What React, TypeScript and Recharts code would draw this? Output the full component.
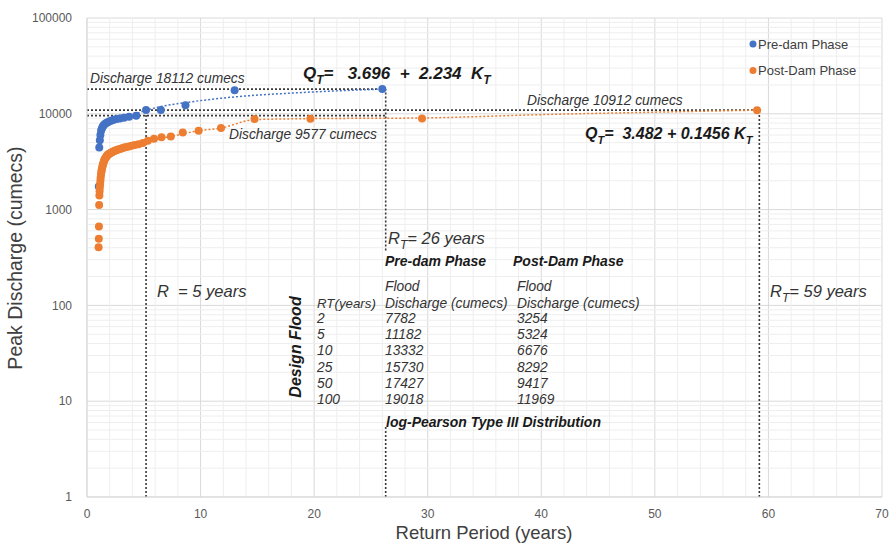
import React from 'react';
import {
  ComposedChart,
  Scatter,
  Line,
  XAxis,
  YAxis,
  CartesianGrid,
  ReferenceLine,
} from 'recharts';

const FONT = '"Liberation Sans", Arial, Helvetica, sans-serif';
const BLUE = '#4472C4';
const ORANGE = '#ED7D31';
const GUIDE = '#3a3a3a';

// Pre-dam phase: return period (years) and peak discharge (cumecs)
const preDamT = [26, 13, 8.67, 6.5, 5.2, 4.33, 3.71, 3.25, 2.89, 2.6, 2.36, 2.17, 2.0, 1.86, 1.73, 1.63, 1.53, 1.44, 1.37, 1.3, 1.24, 1.18, 1.13, 1.08, 1.04];
const preDamQ = [18112, 17650, 12300, 10930, 10930, 9530, 9300, 9100, 8950, 8800, 8650, 8500, 8350, 8200, 8050, 7900, 7750, 7550, 7300, 7000, 6650, 6000, 5300, 4460, 1740];

// Post-dam phase
const postDamT = [59, 29.5, 19.67, 14.75, 11.8, 9.83, 8.43, 7.38, 6.56, 5.9, 5.36, 4.92, 4.54, 4.21, 3.93, 3.69, 3.47, 3.28, 3.1, 2.95, 2.81, 2.68, 2.57, 2.46, 2.36, 2.27, 2.19, 2.11, 2.03, 1.97, 1.9, 1.84, 1.79, 1.74, 1.69, 1.64, 1.59, 1.55, 1.51, 1.48, 1.44, 1.4, 1.37, 1.34, 1.31, 1.28, 1.26, 1.23, 1.2, 1.18, 1.16, 1.13, 1.11, 1.09, 1.07, 1.05, 1.04, 1.02];
const postDamQ = [10912, 8940, 8900, 8800, 7100, 6650, 6380, 5800, 5680, 5500, 5230, 4950, 4820, 4720, 4630, 4560, 4500, 4440, 4380, 4320, 4270, 4220, 4170, 4120, 4070, 4020, 3970, 3920, 3870, 3830, 3780, 3730, 3680, 3620, 3550, 3480, 3400, 3330, 3250, 3150, 3050, 2950, 2850, 2750, 2650, 2550, 2450, 2300, 2150, 2000, 1850, 1700, 1550, 1400, 1120, 665, 495, 405];

// dotted trend lines
const preTrendT = [3.8, 5, 6.5, 8.7, 13, 18, 22, 26];
const preTrendQ = [9450, 10700, 11900, 13100, 15000, 16450, 17350, 18112];
const postTrendT = [4.5, 5.36, 7.38, 9.83, 11.8, 14.75, 19.67, 29.5, 40, 50, 59];
const postTrendQ = [4820, 5230, 5800, 6650, 7100, 8700, 8900, 9050, 9800, 10400, 10912];

// design return periods and discharges marked with guide lines
const guideT = [5.2, 26.3, 59.2];
const guideQ = [10930, 18112, 10912];
const trendQ26 = 9577;

const xTicks = [0, 10, 20, 30, 40, 50, 60, 70];
const yTicks = [1, 10, 100, 1000, 10000, 100000];

// table of design floods
const tableRT = ['2', '5', '10', '25', '50', '100'];
const tablePre = ['7782', '11182', '13332', '15730', '17427', '19018'];
const tablePost = ['3254', '5324', '6676', '8292', '9417', '11969'];

const toPoints = (xs: number[], ys: number[]) => xs.map((x, i) => ({ x, y: ys[i] }));

const preDam = toPoints(preDamT, preDamQ);
const postDam = toPoints(postDamT, postDamQ);
const preTrend = toPoints(preTrendT, preTrendQ);
const postTrend = toPoints(postTrendT, postTrendQ);

const xMinor: number[] = [];
for (let v = 2; v < 70; v += 2) if (v % 10 !== 0) xMinor.push(v);
const yMinor: number[] = [];
for (let d = 1; d < 100000; d *= 10) for (let k = 2; k <= 9; k++) yMinor.push(k * d);

const dot = (color: string) => (p: any) => <circle cx={p.cx} cy={p.cy} r={4} fill={color} />;

const italic = { fontFamily: FONT, fontStyle: 'italic' as const, fill: '#333', whiteSpace: 'pre' as const };
const boldItalic = { ...italic, fontWeight: 700, fill: '#1a1a1a' };

function Sub({ children, size = 16, x, y }: { children: React.ReactNode; size?: number; x: number; y: number }) {
  return (
    <text x={x} y={y} fontSize={size} style={boldItalic}>
      {children}
    </text>
  );
}

export default function App() {
  return (
    <div style={{ position: 'relative', width: 894, height: 545, background: '#fff' }}>
      <style>{'body{margin:0}'}</style>
      <ComposedChart width={894} height={545} margin={{ top: 18, right: 12, left: 0, bottom: 0 }}>
        {xMinor.map((v) => (
          <ReferenceLine key={'xm' + v} x={v} stroke="#eeeeee" strokeWidth={1} />
        ))}
        {yMinor.map((v) => (
          <ReferenceLine key={'ym' + v} y={v} stroke="#eeeeee" strokeWidth={1} />
        ))}
        <CartesianGrid stroke="#d9d9d9" strokeWidth={1} />
        <XAxis
          dataKey="x"
          type="number"
          domain={[0, 70]}
          ticks={xTicks}
          height={48}
          tickSize={0}
          tickMargin={12}
          axisLine={{ stroke: '#d9d9d9' }}
          tick={{ fontSize: 12, fill: '#595959', fontFamily: FONT }}
        />
        <YAxis
          dataKey="y"
          type="number"
          scale="log"
          domain={[1, 100000]}
          ticks={yTicks}
          allowDataOverflow
          width={87}
          tickSize={0}
          tickMargin={15}
          axisLine={{ stroke: '#d9d9d9' }}
          tick={{ fontSize: 12, fill: '#595959', fontFamily: FONT }}
        />

        {/* guide lines for design floods */}
        <ReferenceLine segment={[{ x: 0, y: guideQ[1] }, { x: guideT[1], y: guideQ[1] }]} stroke={GUIDE} strokeWidth={1.6} strokeDasharray="2 2" />
        <ReferenceLine segment={[{ x: 0, y: guideQ[2] }, { x: guideT[2], y: guideQ[2] }]} stroke={GUIDE} strokeWidth={1.6} strokeDasharray="2 2" />
        <ReferenceLine segment={[{ x: 0, y: trendQ26 }, { x: guideT[1], y: trendQ26 }]} stroke={GUIDE} strokeWidth={1.6} strokeDasharray="2 2" />
        <ReferenceLine segment={[{ x: guideT[0], y: 1 }, { x: guideT[0], y: guideQ[0] }]} stroke={GUIDE} strokeWidth={1.6} strokeDasharray="2 2" />
        <ReferenceLine segment={[{ x: guideT[1], y: 374 }, { x: guideT[1], y: guideQ[1] }]} stroke={GUIDE} strokeWidth={1.6} strokeDasharray="2 2" />
        <ReferenceLine segment={[{ x: guideT[1], y: 1 }, { x: guideT[1], y: 5.4 }]} stroke={GUIDE} strokeWidth={1.6} strokeDasharray="2 2" />
        <ReferenceLine segment={[{ x: guideT[2], y: 1 }, { x: guideT[2], y: guideQ[2] }]} stroke={GUIDE} strokeWidth={1.6} strokeDasharray="2 2" />

        <Line data={preTrend} dataKey="y" type="monotone" stroke={BLUE} strokeWidth={1.5} strokeDasharray="2 2" dot={false} isAnimationActive={false} />
        <Line data={postTrend} dataKey="y" type="monotone" stroke={ORANGE} strokeWidth={1.5} strokeDasharray="2 2" dot={false} isAnimationActive={false} />
        <Scatter data={preDam} dataKey="y" shape={dot(BLUE)} isAnimationActive={false} />
        <Scatter data={postDam} dataKey="y" shape={dot(ORANGE)} isAnimationActive={false} />
      </ComposedChart>

      <svg width={894} height={545} style={{ position: 'absolute', left: 0, top: 0, pointerEvents: 'none' }}>
        {/* axis titles */}
        <text x={484} y={539} fontSize={18.5} fontFamily={FONT} fill="#404040" textAnchor="middle">Return Period (years)</text>
        <text x={22} y={258} fontSize={19.5} fontFamily={FONT} fill="#404040" textAnchor="middle" transform="rotate(-90 22 258)">Peak Discharge (cumecs)</text>

        {/* legend */}
        <circle cx={753} cy={44} r={3.5} fill={BLUE} />
        <text x={758} y={48.5} fontSize={13} fontFamily={FONT} fill="#404040">Pre-dam Phase</text>
        <circle cx={753} cy={70.5} r={3.5} fill={ORANGE} />
        <text x={758} y={75} fontSize={13} fontFamily={FONT} fill="#404040">Post-Dam Phase</text>

        {/* discharge notes */}
        <text x={90} y={83} fontSize={13.8} style={italic}>Discharge 18112 cumecs</text>
        <text x={527} y={105} fontSize={13.8} style={italic}>Discharge 10912 cumecs</text>
        <text x={229} y={139} fontSize={13.8} style={italic}>Discharge 9577 cumecs</text>

        {/* equations */}
        <Sub x={303} y={79} size={17}>
          Q<tspan fontSize={12} dy={5}>T</tspan>
          <tspan dy={-5}>{'=   3.696  +  2.234  K'}</tspan>
          <tspan fontSize={12} dy={5}>T</tspan>
        </Sub>
        <Sub x={585} y={139}>
          Q<tspan fontSize={11} dy={5}>T</tspan>
          <tspan dy={-5}>{'=  3.482 + 0.1456 K'}</tspan>
          <tspan fontSize={11} dy={5}>T</tspan>
        </Sub>

        {/* return periods */}
        <text x={388} y={244} fontSize={16.5} style={italic}>
          R<tspan fontSize={12} dy={5}>T</tspan>
          <tspan dy={-5}>{'= 26 years'}</tspan>
        </text>
        <text x={157} y={297} fontSize={16.5} style={italic}>{'R  = 5 years'}</text>
        <text x={770} y={297} fontSize={16.5} style={italic}>
          R<tspan fontSize={12} dy={5}>T</tspan>
          <tspan dy={-5}>{'= 59 years'}</tspan>
        </text>

        {/* design flood table */}
        <text x={385} y={266} fontSize={14} style={boldItalic}>Pre-dam Phase</text>
        <text x={513} y={266} fontSize={14} style={boldItalic}>Post-Dam Phase</text>
        <text x={385} y={291} fontSize={13.8} style={italic}>Flood</text>
        <text x={517} y={291} fontSize={13.8} style={italic}>Flood</text>
        <text x={317} y={308} fontSize={13.3} style={italic}>RT(years)</text>
        <text x={385} y={308} fontSize={13.8} style={italic}>Discharge (cumecs)</text>
        <text x={517} y={308} fontSize={13.8} style={italic}>Discharge (cumecs)</text>
        {tableRT.map((rt, i) => (
          <g key={rt}>
            <text x={317} y={323 + i * 16.2} fontSize={13.8} style={italic}>{rt}</text>
            <text x={385} y={323 + i * 16.2} fontSize={13.8} style={italic}>{tablePre[i]}</text>
            <text x={517} y={323 + i * 16.2} fontSize={13.8} style={italic}>{tablePost[i]}</text>
          </g>
        ))}
        <text x={301} y={347} fontSize={16} style={boldItalic} textAnchor="middle" transform="rotate(-90 301 347)">Design Flood</text>
        <text x={386} y={427} fontSize={14} style={boldItalic}>log-Pearson Type III Distribution</text>
      </svg>
    </div>
  );
}
